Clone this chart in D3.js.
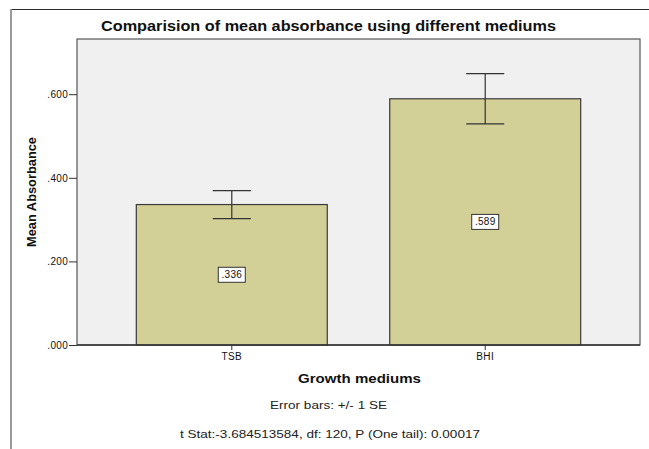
<!DOCTYPE html>
<html>
<head>
<meta charset="utf-8">
<script src="https://cdn.jsdelivr.net/npm/d3@7"></script>
<style>
  html, body { margin: 0; padding: 0; background: #fff; }
  svg { display: block; font-family: Arial, "Liberation Sans", sans-serif; }
</style>
</head>
<body>
<div id="stage"></div>
<script>
(function(d3) {
    'use strict';

    var mediums = ['TSB', 'BHI'],
        meanAbsorbance = [0.336, 0.589],
        standardErrors = [0.0335, 0.060],
        yTicks = [0, 0.2, 0.4, 0.6];

    var width = 649,
        height = 449,
        plot = { left: 77, right: 640, top: 39, bottom: 345 };

    var svg = d3.select('#stage')
        .append('svg')
        .attr('width', width)
        .attr('height', height);

    // outer frame (top dark, left grey)
    svg.append('line')
        .attr('x1', 10).attr('x2', width).attr('y1', 9.5).attr('y2', 9.5)
        .style('stroke', '#2a2a2a').style('stroke-width', 1.2);
    svg.append('line')
        .attr('x1', 11).attr('x2', 11).attr('y1', 9).attr('y2', height)
        .style('stroke', '#999').style('stroke-width', 2);

    var x = d3.scaleBand()
        .domain(mediums)
        .range([plot.left, plot.right])
        .paddingInner(0.2465)
        .paddingOuter(0.234);

    var y = d3.scaleLinear()
        .domain([0, (plot.bottom - plot.top) / 418])
        .range([plot.bottom, plot.top]);

    svg.append('rect')
        .attr('x', plot.left)
        .attr('y', plot.top)
        .attr('width', plot.right - plot.left)
        .attr('height', plot.bottom - plot.top)
        .style('fill', '#f0f0f0')
        .style('stroke', '#555')
        .style('stroke-width', 1.2);

    var data = mediums.map(function(m, i) {
        return { medium: m, mean: meanAbsorbance[i], se: standardErrors[i] };
    });

    var bars = svg.selectAll('.bar')
        .data(data)
        .enter()
        .append('g')
        .attr('class', 'bar');

    bars.append('rect')
        .attr('x', function(d) { return x(d.medium); })
        .attr('y', function(d) { return y(d.mean); })
        .attr('width', x.bandwidth())
        .attr('height', function(d) { return y(0) - y(d.mean); })
        .style('fill', '#d2cf97')
        .style('stroke', '#3a3a3a')
        .style('stroke-width', 1.2);

    // error bars
    var cx = function(d) { return x(d.medium) + x.bandwidth() / 2; };
    bars.append('line')
        .attr('x1', cx).attr('x2', cx)
        .attr('y1', function(d) { return y(d.mean + d.se); })
        .attr('y2', function(d) { return y(d.mean - d.se); })
        .style('stroke', '#333').style('stroke-width', 1.2);
    [1, -1].forEach(function(s) {
        bars.append('line')
            .attr('x1', function(d) { return cx(d) - 19; })
            .attr('x2', function(d) { return cx(d) + 19; })
            .attr('y1', function(d) { return y(d.mean + s * d.se); })
            .attr('y2', function(d) { return y(d.mean + s * d.se); })
            .style('stroke', '#333').style('stroke-width', 1.2);
    });

    // value labels
    bars.append('rect')
        .attr('x', function(d) { return cx(d) - 13.5; })
        .attr('y', function(d) { return (y(d.mean) + y(0)) / 2 - 7.5; })
        .attr('width', 27)
        .attr('height', 15)
        .style('fill', '#fff')
        .style('stroke', '#333')
        .style('stroke-width', 1);
    bars.append('text')
        .attr('x', cx)
        .attr('y', function(d) { return (y(d.mean) + y(0)) / 2; })
        .attr('dy', '0.35em')
        .attr('text-anchor', 'middle')
        .style('font-size', '10px')
        .style('letter-spacing', '0.3px')
        .style('fill', '#111')
        .text(function(d) { return d3.format('.3f')(d.mean).replace(/^0/, ''); });

    // axes
    var yAxis = svg.append('g')
        .attr('transform', 'translate(' + plot.left + ',0)')
        .call(d3.axisLeft(y).tickValues(yTicks).tickSize(8).tickPadding(1)
            .tickFormat(function(v) { return d3.format('.3f')(v).replace(/^0/, ''); }));
    yAxis.select('.domain').remove();
    yAxis.selectAll('line').style('stroke', '#333');
    yAxis.selectAll('text').style('font-size', '10px').style('fill', '#111')
        .style('letter-spacing', '0.3px')
        .style('font-family', 'Arial, "Liberation Sans", sans-serif');

    var xAxis = svg.append('g')
        .attr('transform', 'translate(0,' + plot.bottom + ')')
        .call(d3.axisBottom(x).tickSize(5).tickPadding(3));
    xAxis.select('.domain').remove();
    xAxis.selectAll('line').style('stroke', '#333');
    xAxis.selectAll('text').style('font-size', '10px').style('fill', '#111')
        .style('letter-spacing', '0.4px')
        .style('font-family', 'Arial, "Liberation Sans", sans-serif');

    svg.append('line')
        .attr('x1', plot.left).attr('x2', plot.right)
        .attr('y1', plot.bottom).attr('y2', plot.bottom)
        .style('stroke', '#333').style('stroke-width', 1.4);

    // titles (widths stretched to the reference)
    function label(tx, ty, size, bold, len, str, color) {
        return svg.append('text')
            .attr('x', tx).attr('y', ty).attr('dy', '0.35em')
            .attr('text-anchor', 'middle')
            .attr('textLength', len)
            .attr('lengthAdjust', 'spacingAndGlyphs')
            .style('font-size', size + 'px')
            .style('font-weight', bold ? 'bold' : 'normal')
            .style('fill', color)
            .text(str);
    }

    label(328.5, 26, 15.5, true, 455, 'Comparision of mean absorbance using different mediums', '#111');
    label(359.5, 378, 13.5, true, 123, 'Growth mediums', '#111');
    label(328.5, 405, 11, false, 117, 'Error bars: +/- 1 SE', '#222');
    label(330, 434, 11, false, 300, 't Stat:-3.684513584, df: 120, P (One tail): 0.00017', '#222');

    svg.append('text')
        .attr('transform', 'translate(31,192) rotate(-90)')
        .attr('dy', '0.35em')
        .attr('text-anchor', 'middle')
        .attr('textLength', 110)
        .attr('lengthAdjust', 'spacingAndGlyphs')
        .style('font-size', '13px').style('font-weight', 'bold').style('fill', '#111')
        .text('Mean Absorbance');

})(window.d3);
</script>
</body>
</html>
